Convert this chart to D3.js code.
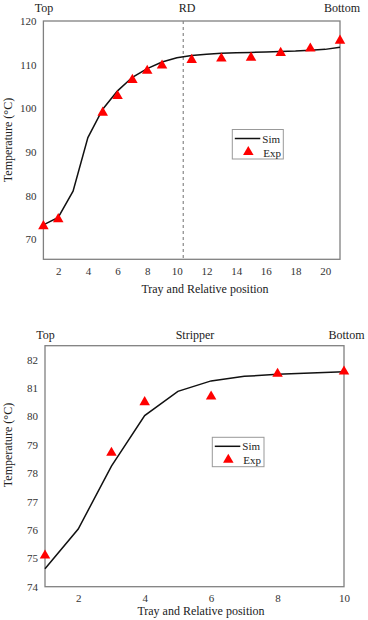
<!DOCTYPE html>
<html><head><meta charset="utf-8">
<script src="https://cdn.jsdelivr.net/npm/d3@7"></script>
<style>html,body{margin:0;padding:0;background:#fff;}svg{display:block;}</style>
</head><body>
<svg id="c" width="368" height="620"></svg>
<script>
// Chart 1 (RD)
const rdSimX = [1,2,3,4,5,6,7,8,9,10,11,12,13,14,15,16,17,18,19,20,21];
const rdSimY = [73.3,75.0,81.0,93.3,99.8,104.0,107.1,109.1,110.6,111.6,112.1,112.4,112.6,112.7,112.8,112.9,113.0,113.1,113.3,113.5,114.0];
const rdExpX = [1,2,5,6,7,8,9,11,13,15,17,19,21];
const rdExpY = [73.0,74.6,99.0,102.8,106.5,108.6,109.8,111.1,111.4,111.6,112.7,113.7,115.5];
const rdXTicks = [2,4,6,8,10,12,14,16,18,20];
const rdYTicks = [70,80,90,100,110,120];
const rdDivider = 10.43;
// Chart 2 (Stripper)
const stSimX = [1,2,3,4,5,6,7,8,9,10];
const stSimY = [74.63,76.03,78.25,80.03,80.88,81.25,81.41,81.48,81.53,81.57];
const stExpX = [1,3,4,6,8,10];
const stExpY = [75.1,78.72,80.5,80.7,81.5,81.58];
const stXTicks = [2,4,6,8,10];
const stYTicks = [74,75,76,77,78,79,80,81,82];
const titles1 = ["Top","RD","Bottom"];
const titles2 = ["Top","Stripper","Bottom"];
const xLabel = "Tray and Relative position";
const yLabel = "Temperature (°C)";
const legendLabels = ["Sim","Exp"];

const svg = d3.select("#c");
const FONT = "'Liberation Serif','Times New Roman',serif";
const AX = "#808080";

function drawChart(o){
  const g = svg.append("g");
  const x = d3.scaleLinear().domain(o.xDom).range([o.l, o.r]);
  const y = d3.scaleLinear().domain(o.yDom).range([o.b, o.t]);
  // frame
  g.append("rect").attr("x",o.l).attr("y",o.t).attr("width",o.r-o.l).attr("height",o.b-o.t)
    .attr("fill","none").attr("stroke",AX).attr("stroke-width",1.3);
  // axes (labels only)
  const xa = g.append("g").attr("transform",`translate(0,${o.b})`)
    .call(d3.axisBottom(x).tickValues(o.xTicks).tickSize(0).tickPadding(8).tickFormat(d3.format("d")));
  const ya = g.append("g").attr("transform",`translate(${o.l},0)`)
    .call(d3.axisLeft(y).tickValues(o.yTicks).tickSize(0).tickPadding(7).tickFormat(d3.format("d")));
  [xa,ya].forEach(a=>{a.select(".domain").remove();
    a.selectAll("text").attr("font-family",FONT).attr("font-size",11).attr("fill","#333");});
  // divider
  if(o.divider!=null){
    g.append("line").attr("x1",x(o.divider)).attr("x2",x(o.divider)).attr("y1",o.t).attr("y2",o.b)
      .attr("stroke","#888").attr("stroke-width",1.2).attr("stroke-dasharray","3,3");
  }
  // sim line
  const pts = o.simX.map((v,i)=>[v,o.simY[i]]);
  g.append("path").datum(pts).attr("fill","none").attr("stroke","#111").attr("stroke-width",1.5)
    .attr("d", d3.line().x(d=>x(d[0])).y(d=>y(d[1])));
  // exp markers
  const tri = d3.symbol().type(d3.symbolTriangle).size(48);
  g.selectAll(".m").data(o.expX.map((v,i)=>[v,o.expY[i]])).join("path")
    .attr("transform",d=>`translate(${x(d[0])},${y(d[1])})`).attr("d",tri).attr("fill","#ff0000");
  // titles
  const tt = o.titles;
  [[tt[0],o.tTop[0]],[tt[1],o.tTop[1]],[tt[2],o.tTop[2]]].forEach(([s,cx])=>{
    g.append("text").attr("x",cx).attr("y",o.titleY).attr("text-anchor","middle")
      .attr("font-family",FONT).attr("font-size",12).attr("fill","#222").text(s);
  });
  // axis labels
  g.append("text").attr("x",o.xlX).attr("y",o.xlY).attr("text-anchor","middle")
    .attr("font-family",FONT).attr("font-size",12).attr("fill","#222").text(xLabel);
  g.append("text").attr("transform",`translate(${o.ylX},${o.ylY}) rotate(-90)`).attr("text-anchor","middle")
    .attr("font-family",FONT).attr("font-size",12).attr("fill","#222").text(yLabel);
  // legend
  const L = o.leg;
  g.append("rect").attr("x",L.x).attr("y",L.y).attr("width",L.w).attr("height",L.h)
    .attr("fill","#fff").attr("stroke","#999").attr("stroke-width",1);
  g.append("line").attr("x1",L.x+2.5).attr("x2",L.x+28).attr("y1",L.y+9).attr("y2",L.y+9)
    .attr("stroke","#111").attr("stroke-width",1.5);
  g.append("text").attr("x",L.x+30).attr("y",L.y+13).attr("font-family",FONT).attr("font-size",11)
    .attr("fill","#222").text(legendLabels[0]);
  g.append("path").attr("transform",`translate(${L.x+16},${L.y+22.5})`).attr("d",tri).attr("fill","#ff0000");
  g.append("text").attr("x",L.x+31).attr("y",L.y+27).attr("font-family",FONT).attr("font-size",11)
    .attr("fill","#222").text(legendLabels[1]);
}

drawChart({
  l:43.4,r:340,t:21,b:259.3,xDom:[1,21],yDom:[65.4,120],xTicks:rdXTicks,yTicks:rdYTicks,
  divider:rdDivider,simX:rdSimX,simY:rdSimY,expX:rdExpX,expY:rdExpY,
  titles:titles1,tTop:[44,187,342],titleY:12,xlX:205,xlY:293,ylX:12,ylY:140,
  leg:{x:232.3,y:129.5,w:51,h:29.5}
});
drawChart({
  l:45,r:344,t:345.7,b:586.7,xDom:[1,10],yDom:[74,82.49],xTicks:stXTicks,yTicks:stYTicks,
  divider:null,simX:stSimX,simY:stSimY,expX:stExpX,expY:stExpY,
  titles:titles2,tTop:[45.5,195,346.5],titleY:339,xlX:201,xlY:615,ylX:12,ylY:445,
  leg:{x:212.3,y:437.3,w:51.7,h:29.4}
});
</script>
</body></html>
